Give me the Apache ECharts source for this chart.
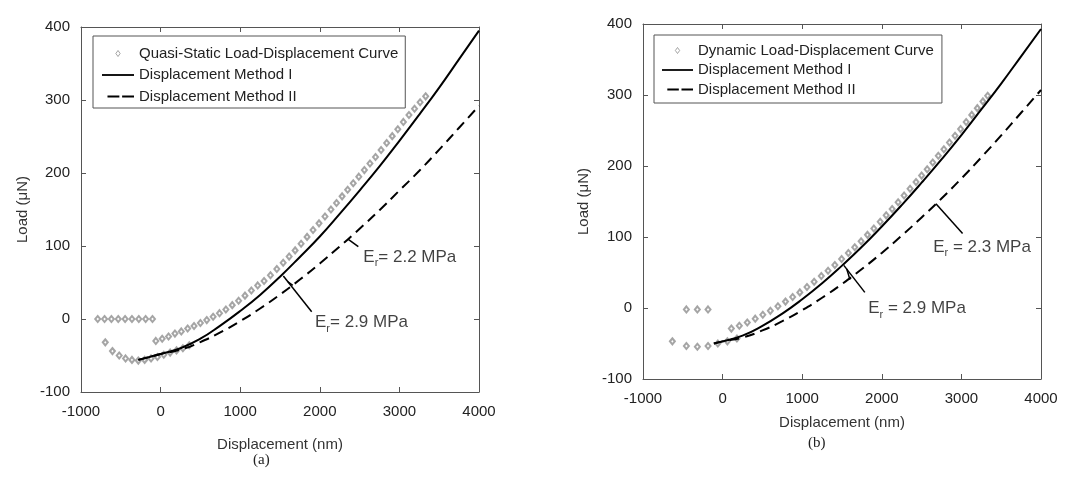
<!DOCTYPE html>
<html>
<head>
<meta charset="utf-8">
<script src="https://cdn.jsdelivr.net/npm/echarts@6/dist/echarts.min.js"></script>
<style>
  html, body { margin: 0; padding: 0; background: #fff; }
  #chart { width: 1088px; height: 479px; }
</style>
</head>
<body>
<div id="chart"></div>
<script>
// ---------- (a) quasi-static test ----------
const quasiDisp = [
  -790, -704, -618, -532, -446, -360, -274, -188, -102,
  -695, -605, -520, -440, -360, -280,
  -200, -120, -40, 40, 120, 200, 280, 360,
  -60, 20, 100, 180, 260, 340, 420, 500, 580, 660, 740, 820, 900, 980, 1060, 1140,
  1220, 1300, 1380, 1460, 1540, 1615, 1690, 1765, 1840, 1915, 1990, 2065, 2140, 2210,
  2280, 2350, 2420, 2490, 2560, 2630, 2700, 2770, 2840, 2910, 2980, 3050, 3120, 3190,
  3260, 3330
];
const quasiLoad = [
  0, 0, 0, 0, 0, 0, 0, 0, 0,
  -32, -44, -50, -54, -56, -57,
  -56, -54, -52, -49, -46, -43, -40, -36,
  -30, -27, -24, -20, -17, -13, -9.5, -5.5, -1.5, 3, 8, 13, 19, 25, 32, 39,
  46, 52, 60, 68.5, 77, 85.5, 94, 103, 112.5, 122, 131, 140.5, 150, 159,
  168, 177, 186, 195, 204, 213, 222, 231.5, 241, 250.5, 260, 270, 279.5, 288,
  297, 305
];
const fitDispA = [-280, -140, 0, 250, 500, 750, 1000, 1250, 1500, 1750, 2000, 2250, 2500, 2750, 3000, 3250, 3500, 3750, 4000];
const methodILoadA = [-56, -52, -48, -40, -27, -9, 11, 33, 58, 85, 113, 144, 176, 209, 244, 280, 317, 356, 395];
const methodIILoadA = [-56, -52, -48, -42, -31.6, -18.4, -3, 14.4, 33.4, 54, 76, 99.4, 123.6, 149, 176, 203, 232, 262, 292];

// ---------- (b) dynamic test ----------
const dynamicDisp = [
  -455, -317, -183,
  -631, -455, -317, -183, -60, 60, 180,
  110, 210, 310, 410, 505, 600, 695, 790, 880, 970, 1060, 1150, 1240, 1325, 1410,
  1495, 1580, 1660, 1740, 1820, 1900, 1980, 2055, 2130, 2205, 2280, 2355, 2430, 2500,
  2570, 2640, 2710, 2780, 2850, 2920, 2990, 3060, 3130, 3200, 3270, 3330
];
const dynamicLoad = [
  -2, -2, -2,
  -47, -53.5, -54.5, -53.5, -50, -47, -43,
  -29, -25, -20.5, -15, -9.5, -4, 2.5, 9, 15.5, 22, 29.5, 37, 45, 52.5, 60.5,
  69, 77.5, 85.5, 94, 103, 112, 121.5, 130.5, 139.5, 149, 158.5, 168, 177.5, 186.5,
  195.5, 205, 214.5, 223.5, 233, 242.5, 252, 262, 272, 281.5, 291, 299
];
const fitDispB = [-110, 0, 250, 500, 750, 1000, 1250, 1500, 1750, 2000, 2250, 2500, 2750, 3000, 3250, 3500, 3750, 4000];
const methodILoadB = [-50, -47, -39, -25.2, -7.9, 12.3, 34.8, 59.7, 86.2, 114.8, 144.9, 176.5, 209.3, 243.6, 279.6, 316.1, 354.5, 393];
const methodIILoadB = [-50, -47, -41.6, -31.6, -18.6, -3.1, 14.4, 33.8, 54.9, 77.6, 101.9, 127.5, 154.2, 182.4, 212.2, 243.1, 275, 307];

// Leader lines for the modulus call-outs (data coordinates)
const leadersA = [
  [[2358, 109], [2484, 99]],
  [[1542, 59], [1898, 10]],
  [[1660, 46], [1600, 51]]
];
const leadersB = [
  [[2680, 147], [3015, 105]],
  [[1523, 60], [1787, 22]],
  [[1600, 40], [1560, 55]]
];
// Call-out text: value after the subscript, anchored at the left/middle of the text
const calloutsA = [
  { text: '= 2.2 MPa', at: [2547, 85] },
  { text: '= 2.9 MPa', at: [1940, -5] }
];
const calloutsB = [
  { text: ' = 2.3 MPa', at: [2646, 86] },
  { text: ' = 2.9 MPa', at: [1829, 0] }
];

const dispRange = { min: -1000, max: 4000, interval: 1000 };
const loadRange = { min: -100, max: 400, interval: 100 };

const FONT = '"Liberation Sans", Arial, sans-serif';
const AXIS_COLOR = '#555';
const TEXT_COLOR = '#222';
const POINT_COLOR = '#8f8f8f';

// Legend glyphs: a solid bar, two dashes, and a small hollow diamond centred in the slot
const ICON_SOLID = 'path://M0,0H35V2H0Z';
const ICON_DASHED = 'path://M0,0M6,0H19V2H6Z M22,0H35V2H22Z';
const ICON_POINT = 'path://M0,0M35,7M17.5,0L20,3.5L17.5,7L15,3.5Z';

const zip = (xs, ys) => xs.map((x, i) => [x, ys[i]]);
const plainNumber = v => String(v);

function xAxes(gridIndex, nameGap) {
  return [
    {
      gridIndex, type: 'value', ...dispRange, position: 'bottom',
      name: 'Displacement (nm)', nameLocation: 'middle', nameGap,
      nameTextStyle: { fontFamily: FONT, fontSize: 15, color: '#333' },
      axisLine: { show: true, onZero: false, lineStyle: { color: AXIS_COLOR, width: 1 } },
      axisTick: { show: true, inside: true, length: 5, lineStyle: { color: AXIS_COLOR } },
      axisLabel: { fontFamily: FONT, fontSize: 15, color: TEXT_COLOR, margin: 12, formatter: plainNumber },
      splitLine: { show: false }
    },
    {
      gridIndex, type: 'value', ...dispRange, position: 'top',
      axisLine: { show: true, onZero: false, lineStyle: { color: AXIS_COLOR, width: 1 } },
      axisTick: { show: true, inside: true, length: 5, lineStyle: { color: AXIS_COLOR } },
      axisLabel: { show: false },
      splitLine: { show: false }
    }
  ];
}

function yAxes(gridIndex, nameGap) {
  return [
    {
      gridIndex, type: 'value', ...loadRange, position: 'left',
      name: 'Load (\u03bcN)', nameLocation: 'middle', nameGap,
      nameTextStyle: { fontFamily: FONT, fontSize: 15, color: '#333' },
      axisLine: { show: true, onZero: false, lineStyle: { color: AXIS_COLOR, width: 1 } },
      axisTick: { show: true, inside: true, length: 5, lineStyle: { color: AXIS_COLOR } },
      axisLabel: { fontFamily: FONT, fontSize: 15, color: TEXT_COLOR, margin: 11, formatter: plainNumber },
      splitLine: { show: false }
    },
    {
      gridIndex, type: 'value', ...loadRange, position: 'right',
      axisLine: { show: true, onZero: false, lineStyle: { color: AXIS_COLOR, width: 1 } },
      axisTick: { show: true, inside: true, length: 5, lineStyle: { color: AXIS_COLOR } },
      axisLabel: { show: false },
      splitLine: { show: false }
    }
  ];
}

function panelSeries(axisIdx, pointName, disp, load, fitDisp, loadI, loadII, leaders, callouts) {
  const out = [
    {
      name: pointName, type: 'scatter', xAxisIndex: axisIdx, yAxisIndex: axisIdx,
      data: zip(disp, load), symbol: 'emptyDiamond', symbolSize: [5, 6],
      itemStyle: { color: POINT_COLOR, borderWidth: 1 }, z: 2, silent: true
    },
    {
      name: 'Displacement Method I', type: 'line', xAxisIndex: axisIdx, yAxisIndex: axisIdx,
      data: zip(fitDisp, loadI), symbol: 'none', smooth: 0.5,
      lineStyle: { color: '#000', width: 2 }, itemStyle: { color: '#000' }, z: 3, silent: true
    },
    {
      name: 'Displacement Method II', type: 'line', xAxisIndex: axisIdx, yAxisIndex: axisIdx,
      data: zip(fitDisp, loadII), symbol: 'none', smooth: 0.5,
      lineStyle: { color: '#000', width: 2, type: [10, 6] }, itemStyle: { color: '#000' }, z: 3, silent: true
    }
  ];
  leaders.forEach(seg => out.push({
    type: 'line', xAxisIndex: axisIdx, yAxisIndex: axisIdx, data: seg, symbol: 'none',
    lineStyle: { color: '#000', width: 1.5 }, z: 4, silent: true
  }));
  out.push({
    type: 'scatter', xAxisIndex: axisIdx, yAxisIndex: axisIdx, symbolSize: 0, silent: true, z: 5,
    data: callouts.map(c => ({ value: c.at, calloutText: c.text })),
    label: {
      show: true, position: 'right', distance: 0,
      formatter: p => '{e|E}{r|r}{v|' + p.data.calloutText + '}',
      rich: {
        e: { fontFamily: FONT, fontSize: 17, color: '#111', lineHeight: 24 },
        r: { fontFamily: FONT, fontSize: 11, color: '#111', lineHeight: 11, verticalAlign: 'bottom' },
        v: { fontFamily: FONT, fontSize: 17, color: '#111', lineHeight: 24 }
      }
    }
  });
  return out;
}

function legendFor(pointName, left, top, padding, itemWidth, itemGap) {
  return {
    orient: 'vertical', left, top, padding, itemWidth, itemHeight: 6, itemGap,
    borderColor: AXIS_COLOR, borderWidth: 1, selectedMode: false, symbolKeepAspect: true,
    textStyle: { fontFamily: FONT, fontSize: 15, color: TEXT_COLOR },
    data: [
      { name: pointName, icon: ICON_POINT,
        itemStyle: { color: '#fff', borderColor: POINT_COLOR, borderWidth: 1 } },
      { name: 'Displacement Method I', icon: ICON_SOLID,
        itemStyle: { color: '#000', borderWidth: 0 } },
      { name: 'Displacement Method II', icon: ICON_DASHED,
        itemStyle: { color: '#000', borderWidth: 0 } }
    ]
  };
}

const chart = echarts.init(document.getElementById('chart'), null, { renderer: 'canvas' });
chart.setOption({
  animation: false,
  backgroundColor: '#fff',
  grid: [
    { left: 81, top: 27, width: 398, height: 365 },
    { left: 643, top: 24, width: 398, height: 355 }
  ],
  xAxis: [...xAxes(0, 45), ...xAxes(1, 36)],
  yAxis: [...yAxes(0, 51), ...yAxes(1, 52)],
  legend: [
    legendFor('Quasi-Static Load-Displacement Curve', 93, 36, [10, 7, 4, 9], 32, 6.5),
    legendFor('Dynamic Load-Displacement Curve', 654, 35, [8, 8, 6, 8], 31, 4.5)
  ],
  series: [
    ...panelSeries(0, 'Quasi-Static Load-Displacement Curve', quasiDisp, quasiLoad,
      fitDispA, methodILoadA, methodIILoadA, leadersA, calloutsA),
    ...panelSeries(2, 'Dynamic Load-Displacement Curve', dynamicDisp, dynamicLoad,
      fitDispB, methodILoadB, methodIILoadB, leadersB, calloutsB)
  ],
  graphic: [
    { type: 'text', left: 253, top: 453, style: { text: '(a)', fontFamily: '"Liberation Serif", serif', fontSize: 15, fill: '#222' } },
    { type: 'text', left: 808, top: 436, style: { text: '(b)', fontFamily: '"Liberation Serif", serif', fontSize: 15, fill: '#222' } }
  ]
});
</script>
</body>
</html>
